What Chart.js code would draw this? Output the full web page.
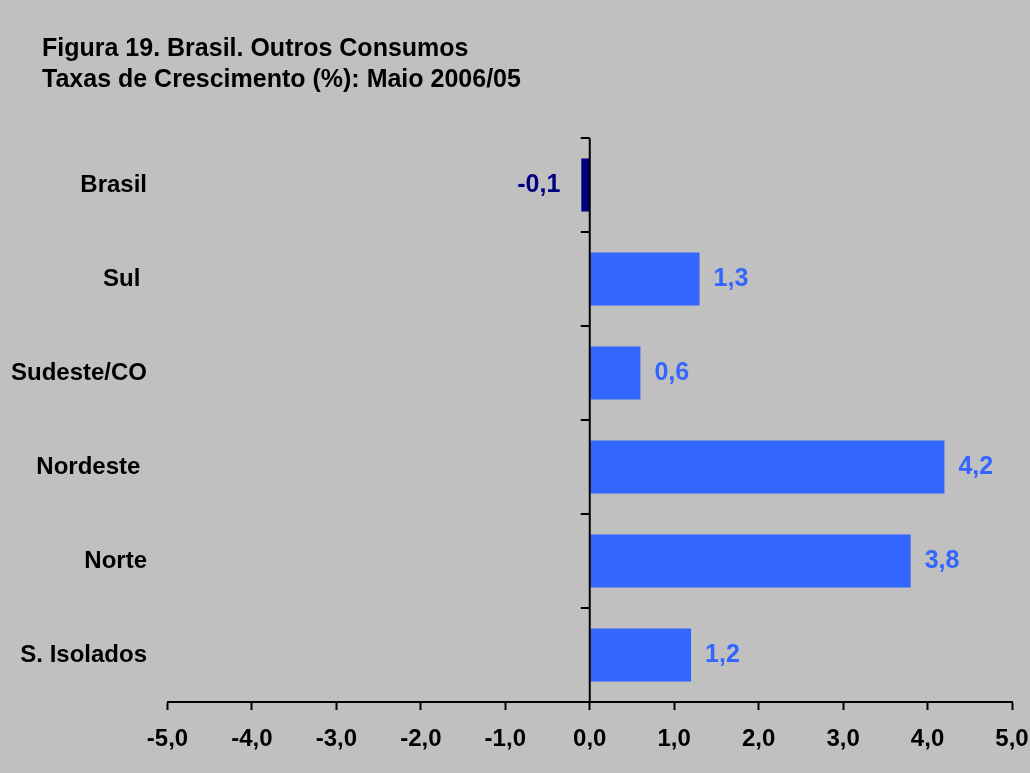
<!DOCTYPE html>
<html lang="pt">
<head>
<meta charset="utf-8">
<title>Figura 19. Brasil. Outros Consumos</title>
<script src="https://cdn.jsdelivr.net/npm/chart.js@4/dist/chart.umd.min.js"></script>
<style>
  html, body { margin: 0; padding: 0; background: #c0c0c0; }
  #wrap { width: 1030px; height: 773px; }
</style>
</head>
<body>
<div id="wrap"><canvas id="chart" width="1030" height="773"></canvas></div>
<script>
/* Outros Consumos — taxas de crescimento por região, Maio 2006/05 */

const titleLines = ['Figura 19. Brasil. Outros Consumos', 'Taxas de Crescimento (%): Maio 2006/05'];
const regions = ['Brasil', 'Sul ', 'Sudeste/CO', 'Nordeste ', 'Norte', 'S. Isolados'];
const growth = [-0.1, 1.3, 0.6, 4.2, 3.8, 1.2];
const barColors = ['#000080', '#3366ff', '#3366ff', '#3366ff', '#3366ff', '#3366ff'];
const xTicks = [-5, -4, -3, -2, -1, 0, 1, 2, 3, 4, 5];

const FONT = "'Liberation Sans', Arial, sans-serif";

const fmt = v => v.toFixed(1).replace('.', ',');

// two-line heading in the top-left corner
const heading = {
  id: 'heading',
  afterDraw(chart) {
    const { ctx } = chart;
    ctx.save();
    ctx.font = `bold 25px ${FONT}`;
    ctx.fillStyle = '#000';
    ctx.textAlign = 'left';
    ctx.textBaseline = 'alphabetic';
    titleLines.forEach((line, i) => ctx.fillText(line, 42, 56 + i * 31));
    ctx.restore();
  },
};

// small ticks on the zero line, between categories
const zeroAxisTicks = {
  id: 'zeroAxisTicks',
  afterDraw(chart) {
    const { ctx, scales: { x, y } } = chart;
    const x0 = x.getPixelForValue(0);
    ctx.save();
    ctx.strokeStyle = '#000';
    ctx.lineWidth = 2;
    ctx.beginPath();
    for (let i = 0; i < regions.length; i++) {
      const yb = Math.round(y.getPixelForValue(i - 0.5));
      ctx.moveTo(x0 - 9, yb);
      ctx.lineTo(x0, yb);
    }
    ctx.moveTo(x0, y.top);
    ctx.lineTo(x0, y.bottom);
    ctx.stroke();
    ctx.restore();
  },
};

// value labels next to each bar end
const barValueLabels = {
  id: 'barValueLabels',
  afterDatasetsDraw(chart) {
    const { ctx } = chart;
    const meta = chart.getDatasetMeta(0);
    ctx.save();
    ctx.font = `bold 25px ${FONT}`;
    ctx.textBaseline = 'middle';
    meta.data.forEach((bar, i) => {
      const v = growth[i];
      ctx.fillStyle = barColors[i];
      if (v < 0) {
        ctx.textAlign = 'right';
        ctx.fillText(fmt(v), bar.x - 21, bar.y);
      } else {
        ctx.textAlign = 'left';
        ctx.fillText(fmt(v), bar.x + 14, bar.y);
      }
    });
    ctx.restore();
  },
};

new Chart(document.getElementById('chart'), {
  type: 'bar',
  data: {
    labels: regions,
    datasets: [{
      data: growth,
      backgroundColor: barColors,
      borderWidth: 0,
      categoryPercentage: 0.564,
      barPercentage: 1,
    }],
  },
  options: {
    indexAxis: 'y',
    responsive: false,
    animation: false,
    layout: { padding: { left: 0, right: 18, top: 138, bottom: 0 } },
    plugins: {
      legend: { display: false },
      tooltip: { enabled: false },
      title: { display: false },
    },
    scales: {
      x: {
        type: 'linear',
        min: -5,
        max: 5,
        afterBuildTicks: scale => { scale.ticks = xTicks.map(v => ({ value: v })); },
        afterFit: scale => {
          scale.height = 71;
          scale.paddingLeft = 0;
          scale.paddingRight = 0;
        },
        border: { display: true, color: '#000', width: 2 },
        grid: {
          drawOnChartArea: false,
          tickColor: '#000',
          tickWidth: 2,
          tickLength: 8,
        },
        ticks: {
          color: '#000',
          padding: 15,
          maxRotation: 0,
          font: { family: FONT, size: 24, weight: 'bold' },
          callback: v => fmt(v),
        },
      },
      y: {
        afterFit: scale => { scale.width = 167.5; },
        border: { display: false },
        grid: { display: false, drawTicks: false },
        ticks: {
          color: '#000',
          padding: 20.5,
          font: { family: FONT, size: 24, weight: 'bold' },
        },
      },
    },
  },
  plugins: [heading, zeroAxisTicks, barValueLabels],
});
</script>
</body>
</html>
